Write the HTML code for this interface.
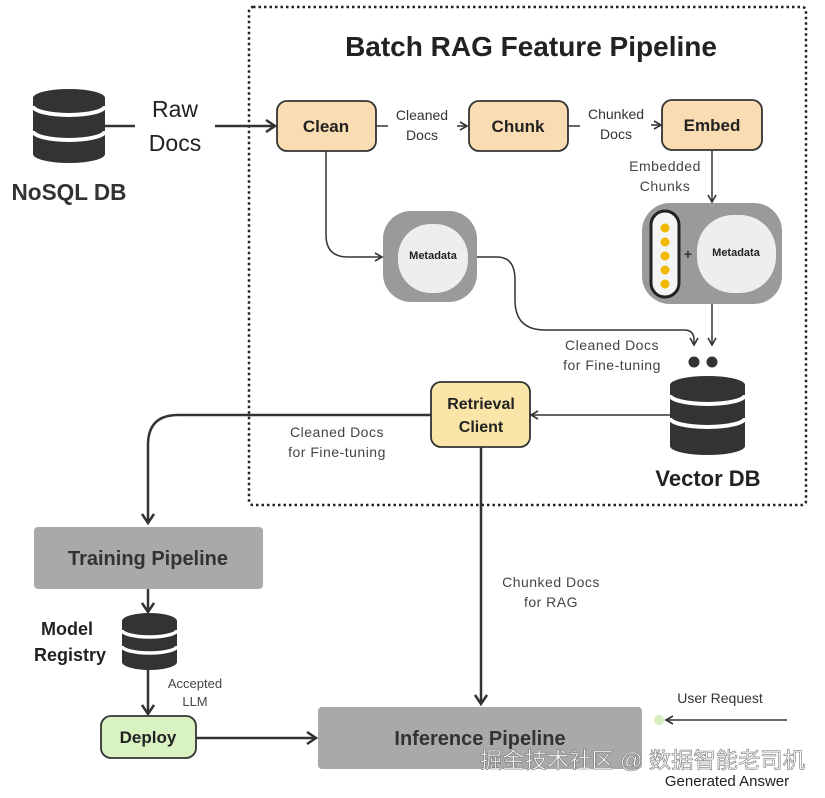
<!DOCTYPE html>
<html><head><meta charset="utf-8"><style>
body{margin:0;background:#fff}
svg text{font-family:"Liberation Sans","Noto Sans CJK SC",sans-serif}
</style></head><body>
<svg width="825" height="793" viewBox="0 0 825 793" xmlns="http://www.w3.org/2000/svg">
<defs>
<marker id="a" markerWidth="10" markerHeight="10" refX="8" refY="5" orient="auto" markerUnits="userSpaceOnUse"><path d="M1,1 L8,5 L1,9" fill="none" stroke="#333" stroke-width="1.6"/></marker>
<marker id="b" markerWidth="14" markerHeight="14" refX="11" refY="7" orient="auto" markerUnits="userSpaceOnUse"><path d="M2,1 L11,7 L2,13" fill="none" stroke="#333" stroke-width="2.5"/></marker>
</defs>
<rect x="249" y="7" width="557" height="498" rx="4" fill="none" stroke="#222" stroke-width="2.5" stroke-dasharray="2.5 3"/>
<text x="531" y="56" text-anchor="middle" font-size="28" font-weight="bold" fill="#222">Batch RAG Feature Pipeline</text>

<path d="M33,98 A36,9 0 0 1 105,98 L105,154 A36,9 0 0 1 33,154 Z" fill="#333"/>
<path d="M33,106 A36,9 0 0 0 105,106 M33,131 A36,9 0 0 0 105,131" fill="none" stroke="#fff" stroke-width="4"/>
<text x="69" y="200" text-anchor="middle" font-size="23" font-weight="bold" fill="#333" textLength="115" lengthAdjust="spacingAndGlyphs">NoSQL DB</text>
<line x1="105" y1="126" x2="135" y2="126" stroke="#333" stroke-width="2.5"/>
<text x="175" y="117" text-anchor="middle" font-size="23" fill="#222">Raw</text>
<text x="175" y="151" text-anchor="middle" font-size="23" fill="#222">Docs</text>
<line x1="215" y1="126" x2="275" y2="126" stroke="#333" stroke-width="2.5" marker-end="url(#b)"/>

<rect x="277" y="101" width="99" height="50" rx="10" fill="#f9dcb2" stroke="#333" stroke-width="1.8"/>
<text x="326" y="132" text-anchor="middle" font-size="17" font-weight="bold" fill="#222">Clean</text>
<line x1="376" y1="126" x2="388" y2="126" stroke="#333" stroke-width="1.5"/>
<text x="422" y="120" text-anchor="middle" font-size="14" fill="#333">Cleaned</text>
<text x="422" y="140" text-anchor="middle" font-size="14" fill="#333">Docs</text>
<line x1="457" y1="126" x2="467" y2="126" stroke="#333" stroke-width="1.5" marker-end="url(#a)"/>
<rect x="469" y="101" width="99" height="50" rx="10" fill="#f9dcb2" stroke="#333" stroke-width="1.8"/>
<text x="518" y="132" text-anchor="middle" font-size="17" font-weight="bold" fill="#222">Chunk</text>
<line x1="568" y1="126" x2="580" y2="126" stroke="#333" stroke-width="1.5"/>
<text x="616" y="119" text-anchor="middle" font-size="14" fill="#333">Chunked</text>
<text x="616" y="139" text-anchor="middle" font-size="14" fill="#333">Docs</text>
<line x1="651" y1="125" x2="661" y2="125" stroke="#333" stroke-width="1.5" marker-end="url(#a)"/>
<rect x="662" y="100" width="100" height="50" rx="10" fill="#f9dcb2" stroke="#333" stroke-width="1.8"/>
<text x="712" y="131" text-anchor="middle" font-size="17" font-weight="bold" fill="#222">Embed</text>
<text x="665" y="171" text-anchor="middle" font-size="14" fill="#444" letter-spacing="0.5">Embedded</text>
<text x="665" y="191" text-anchor="middle" font-size="14" fill="#444" letter-spacing="0.5">Chunks</text>
<line x1="712" y1="150" x2="712" y2="202" stroke="#333" stroke-width="1.5" marker-end="url(#a)"/>

<rect x="642" y="203" width="140" height="101" rx="28" fill="#9a9a9a"/>
<rect x="651" y="211" width="28" height="86" rx="14" fill="#f4f4f4" stroke="#222" stroke-width="3"/>
<g fill="#f3b800"><circle cx="665" cy="228" r="4.5"/><circle cx="665" cy="242" r="4.5"/><circle cx="665" cy="256" r="4.5"/><circle cx="665" cy="270" r="4.5"/><circle cx="665" cy="284" r="4.5"/></g>
<text x="688" y="259" text-anchor="middle" font-size="14" font-weight="bold" fill="#333">+</text>
<rect x="697" y="215" width="79" height="78" rx="36" fill="#eeeeee"/>
<text x="736" y="256" text-anchor="middle" font-size="11" font-weight="bold" fill="#222">Metadata</text>

<rect x="383" y="211" width="94" height="91" rx="28" fill="#9a9a9a"/>
<rect x="398" y="224" width="70" height="69" rx="33" fill="#eeeeee"/>
<text x="433" y="259" text-anchor="middle" font-size="11" font-weight="bold" fill="#222">Metadata</text>
<path d="M326,151 L326,235 Q326,257 348,257 L382,257" fill="none" stroke="#333" stroke-width="1.5" marker-end="url(#a)"/>
<path d="M477,257 L497,257 Q515,257 515,280 L515,300 Q515,330 545,330 L684,330 Q694,330 694,340 L694,345" fill="none" stroke="#333" stroke-width="1.5" marker-end="url(#a)"/>
<line x1="712" y1="304" x2="712" y2="345" stroke="#333" stroke-width="1.5" marker-end="url(#a)"/>
<circle cx="694" cy="362" r="5.5" fill="#333"/><circle cx="712" cy="362" r="5.5" fill="#333"/>
<text x="612" y="350" text-anchor="middle" font-size="14" fill="#444" letter-spacing="0.5">Cleaned Docs</text>
<text x="612" y="370" text-anchor="middle" font-size="14" fill="#444" letter-spacing="0.5">for Fine-tuning</text>

<path d="M670,385 A37.5,9 0 0 1 745,385 L745,446 A37.5,9 0 0 1 670,446 Z" fill="#333"/>
<path d="M670,395 A37.5,9 0 0 0 745,395 M670,418 A37.5,9 0 0 0 745,418" fill="none" stroke="#fff" stroke-width="4"/>
<text x="708" y="486" text-anchor="middle" font-size="22" font-weight="bold" fill="#222">Vector DB</text>
<line x1="670" y1="415" x2="531" y2="415" stroke="#333" stroke-width="1.5" marker-end="url(#a)"/>

<rect x="431" y="382" width="99" height="65" rx="10" fill="#f9e5a8" stroke="#333" stroke-width="1.8"/>
<text x="481" y="409" text-anchor="middle" font-size="16" font-weight="bold" fill="#222">Retrieval</text>
<text x="481" y="432" text-anchor="middle" font-size="16" font-weight="bold" fill="#222">Client</text>
<path d="M431,415 L178,415 Q148,415 148,445 L148,523" fill="none" stroke="#333" stroke-width="2.5" marker-end="url(#b)"/>
<text x="337" y="437" text-anchor="middle" font-size="14" fill="#444" letter-spacing="0.5">Cleaned Docs</text>
<text x="337" y="457" text-anchor="middle" font-size="14" fill="#444" letter-spacing="0.5">for Fine-tuning</text>
<line x1="481" y1="447" x2="481" y2="704" stroke="#333" stroke-width="2.5" marker-end="url(#b)"/>
<text x="551" y="587" text-anchor="middle" font-size="14" fill="#444" letter-spacing="0.5">Chunked Docs</text>
<text x="551" y="607" text-anchor="middle" font-size="14" fill="#444" letter-spacing="0.5">for RAG</text>

<rect x="34" y="527" width="229" height="62" rx="4" fill="#a9a9a9"/>
<text x="148" y="565" text-anchor="middle" font-size="20" font-weight="bold" fill="#333">Training Pipeline</text>
<line x1="148" y1="589" x2="148" y2="612" stroke="#333" stroke-width="2.5" marker-end="url(#b)"/>
<path d="M122,621 A27.5,8 0 0 1 177,621 L177,662 A27.5,8 0 0 1 122,662 Z" fill="#333"/>
<path d="M122,630 A27.5,7 0 0 0 177,630 M122,646 A27.5,7 0 0 0 177,646" fill="none" stroke="#fff" stroke-width="3.5"/>
<text x="67" y="635" text-anchor="middle" font-size="18" font-weight="bold" fill="#222">Model</text>
<text x="70" y="661" text-anchor="middle" font-size="18" font-weight="bold" fill="#222">Registry</text>
<line x1="148" y1="670" x2="148" y2="714" stroke="#333" stroke-width="2.5" marker-end="url(#b)"/>
<text x="195" y="688" text-anchor="middle" font-size="13" fill="#444">Accepted</text>
<text x="195" y="706" text-anchor="middle" font-size="13" fill="#444">LLM</text>
<rect x="101" y="716" width="95" height="42" rx="10" fill="#d9f2c2" stroke="#333" stroke-width="1.8"/>
<text x="148" y="743" text-anchor="middle" font-size="17" font-weight="bold" fill="#222">Deploy</text>
<line x1="196" y1="738" x2="316" y2="738" stroke="#333" stroke-width="2.5" marker-end="url(#b)"/>

<rect x="318" y="707" width="324" height="62" rx="4" fill="#a9a9a9"/>
<text x="480" y="745" text-anchor="middle" font-size="20" font-weight="bold" fill="#333">Inference Pipeline</text>
<text x="720" y="703" text-anchor="middle" font-size="14" fill="#333">User Request</text>
<circle cx="659" cy="720" r="5" fill="#d5efbf"/>
<line x1="787" y1="720" x2="666" y2="720" stroke="#333" stroke-width="1.5" marker-end="url(#a)"/>
<text x="480" y="768" font-size="22" fill="#fff" stroke="#777" stroke-width="0.6" textLength="325" lengthAdjust="spacingAndGlyphs">掘金技术社区 @ 数据智能老司机</text>
<text x="727" y="786" text-anchor="middle" font-size="15" fill="#222">Generated Answer</text>
</svg>
</body></html>
